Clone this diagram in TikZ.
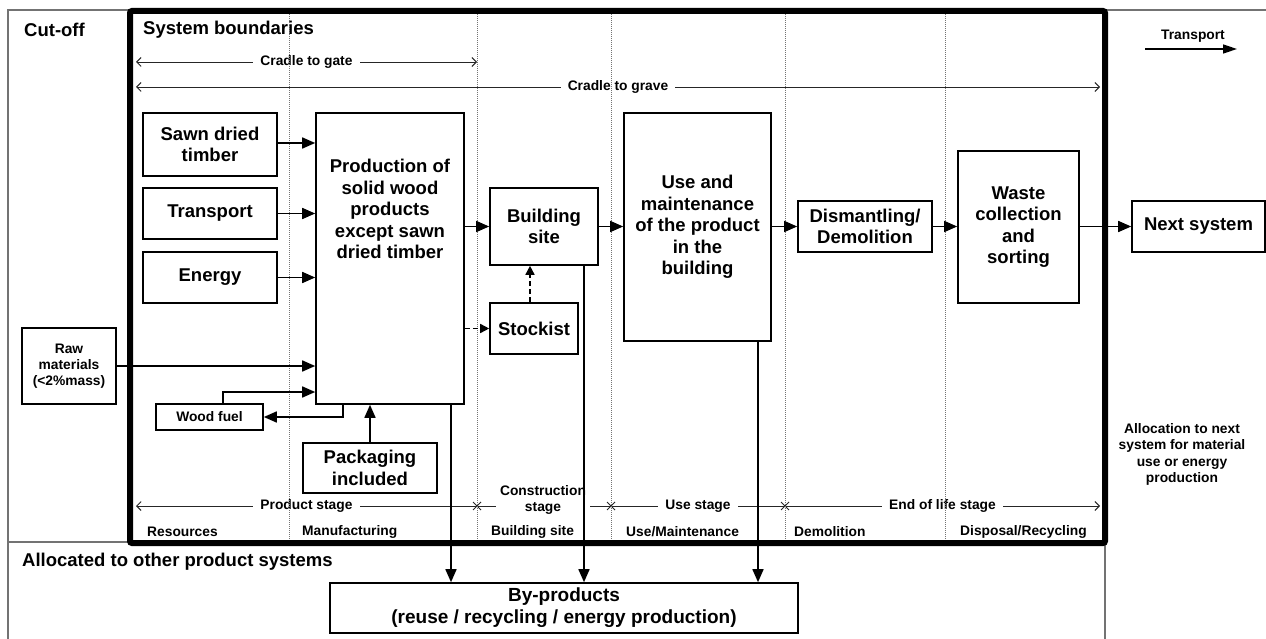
\documentclass[tikz,border=0pt]{standalone}
\usepackage{fontspec}
\setmainfont{Liberation Sans}
\usetikzlibrary{arrows.meta}
\begin{document}
\begin{tikzpicture}[x=1pt,y=-1pt,
  box/.style={draw, line width=1.6pt, inner sep=0pt, align=center, font=\bfseries\fontsize{18.5}{21.5}\selectfont},
  sbox/.style={draw, line width=1.6pt, inner sep=0pt, align=center, font=\bfseries\fontsize{13.8}{16.3}\selectfont},
  bigtxt/.style={inner sep=0pt, align=center, font=\bfseries\fontsize{18.5}{21.5}\selectfont},
  smalltxt/.style={inner sep=0pt, align=center, text=black, font=\bfseries\fontsize{13.8}{16.3}\selectfont},
  gaptxt/.style={smalltxt, fill=white, inner xsep=7pt, inner ysep=1pt},
  flow/.style={line width=1.6pt, -{Triangle[length=13pt,width=11pt]}},
  dflow/.style={line width=1.5pt, dash pattern=on 5pt off 3pt, -{Triangle[length=9pt,width=9pt]}},
  frame/.style={line width=1.2pt, black!55},
  dotline/.style={line width=0.9pt, black!55, dash pattern=on 1pt off 1pt},
  thinline/.style={line width=0.9pt, black!85},
  barb/.tip={Straight Barb[length=4.5pt,width=9pt,line width=0.9pt]},
]
\useasboundingbox (0,0) rectangle (1266,639);

% outer frame
\draw[frame] (8,639) -- (8,10) -- (1266,10);
\draw[frame] (8,542) -- (130,542);
\draw[frame] (1105,543) -- (1105,639);

% header texts
\node[bigtxt, anchor=west] (cutoff) at (24,30) {Cut-off};
\node[bigtxt, anchor=west] (sysb) at (143,30) {System boundaries};
\node[bigtxt, anchor=west] (alloc) at (22,562) {Allocated to other product systems};

% cradle arrows
\coordinate (cg1) at (136,62); \coordinate (cg2) at (477,62);
\draw[thinline, barb-barb] (cg1) -- (cg2) node[midway, gaptxt] (cgate) {Cradle to gate};
\coordinate (cv1) at (136,87); \coordinate (cv2) at (1100,87);
\draw[thinline, barb-barb] (cv1) -- (cv2) node[midway, gaptxt] (cgrave) {Cradle to grave};

% stage row
\coordinate (s0) at (136,506); \coordinate (s1) at (477,506);
\coordinate (s2) at (611,506); \coordinate (s3) at (785,506);
\coordinate (s4) at (1100,506);
\draw[thinline, barb-] (s0) -- (s1) node[midway, gaptxt] (pstage) {Product stage};
\draw[thinline] (s1) -- (s2);
\node[gaptxt, inner xsep=4pt] (cstage) at (543,500) {Construction\\stage};
\draw[thinline] (s2) -- (s3) node[midway, gaptxt] (ustage) {Use stage};
\draw[thinline, -barb] (s3) -- (s4) node[midway, gaptxt] (estage) {End of life stage};
\foreach \c in {s1,s2,s3}{
  \draw[thinline] ([shift={(-4pt,-4pt)}]\c) -- ([shift={(4pt,4pt)}]\c);
  \draw[thinline] ([shift={(-4pt,4pt)}]\c) -- ([shift={(4pt,-4pt)}]\c);
}

% bottom labels
\node[smalltxt, anchor=west] (lres) at (147,532) {Resources};
\node[smalltxt, anchor=west] (lman) at (302,532) {Manufacturing};
\node[smalltxt, anchor=west] (lbui) at (491,532) {Building site};
\node[smalltxt, anchor=west] (luse) at (626,532) {Use/Maintenance};
\node[smalltxt, anchor=west] (ldem) at (794,532) {Demolition};
\node[smalltxt, anchor=west] (ldis) at (960,532) {Disposal/Recycling};

% dotted stage separators
\foreach \x in {289,477,611,785,945}{
  \draw[dotline] (\x,14) -- (\x,540);
}

% thick system boundary
\draw[line width=6pt, rounded corners=2pt] (130,11) rectangle (1105,543);

% boxes
\node[box, minimum width=134pt, minimum height=63pt] (sawn) at (210,144.5) {Sawn dried\\timber};
\node[box, minimum width=134pt, minimum height=51pt] (trans) at (210,213.5) {Transport};
\node[box, minimum width=134pt, minimum height=51pt] (energy) at (210,277.5) {Energy};
\node[box, minimum width=148pt, minimum height=291pt] (prod) at (390,258.5) {};
\node[bigtxt] (prodtxt) at (390,209) {Production of\\solid wood\\products\\except sawn\\dried timber};
\node[sbox, minimum width=94pt, minimum height=76pt] (raw) at (69,366) {Raw\\materials\\(<2\%mass)};
\node[sbox, minimum width=107pt, minimum height=26pt] (wood) at (209.5,417) {Wood fuel};
\node[box, minimum width=134pt, minimum height=50pt] (pack) at (370,468) {Packaging\\included};
\node[box, minimum width=108pt, minimum height=77pt] (build) at (544,226.5) {Building\\site};
\node[box, minimum width=88pt, minimum height=51pt] (stock) at (534,328.5) {Stockist};
\node[box, minimum width=147pt, minimum height=228pt] (use) at (697.5,227) {Use and\\maintenance\\of the product\\in the\\building};
\node[box, minimum width=134pt, minimum height=51pt] (dism) at (865,226.5) {Dismantling/\\Demolition};
\node[box, minimum width=121pt, minimum height=152pt] (waste) at (1018.5,227) {Waste\\collection\\and\\sorting};
\node[box, minimum width=133pt, minimum height=51pt] (next) at (1198.5,226.5) {Next system};
\node[box, minimum width=468pt, minimum height=50pt, font=\bfseries\fontsize{19}{22}\selectfont] (byp) at (564,608) {By-products\\(reuse / recycling / energy production)};

% side texts
\node[smalltxt] (allocnext) at (1182,454.5) {Allocation to next\\system for material\\use or energy\\production};
\node[smalltxt] (tlab) at (1193,36) {Transport};
\coordinate (ta) at (1145,49); \coordinate (tb) at (1237,49);
\draw[line width=1.6pt, -{Triangle[length=14pt,width=9pt]}] (ta) -- (tb);

% flows
\draw[flow] ([yshift=1.5pt]sawn.east) -- ([yshift=1.5pt]sawn.east -| prod.west);
\draw[flow] (trans.east) -- (trans.east -| prod.west);
\draw[flow] (energy.east) -- (energy.east -| prod.west);
\draw[flow] (raw.east) -- (raw.east -| prod.west);
\draw[flow] ([xshift=13.5pt]wood.north) |- ([yshift=-133.5pt]prod.west);
\draw[flow] ([xshift=-47pt]prod.south) |- (wood.east);
\draw[flow] (pack.north) -- (pack.north |- prod.south);
\draw[flow] (prod.east |- build.west) -- (build.west);
\draw[dflow] (prod.east |- stock.west) -- (stock.west);
\draw[dflow] ([xshift=-4pt]stock.north) -- ([xshift=-4pt]stock.north |- build.south);
\draw[flow] (build.east) -- (build.east -| use.west);
\draw[flow] (use.east |- dism.west) -- (dism.west);
\draw[flow] (dism.east) -- (dism.east -| waste.west);
\draw[flow] (waste.east |- next.west) -- (next.west);
\draw[flow] ([xshift=61pt]prod.south) -- ([xshift=61pt]prod.south |- byp.north);
\draw[flow] ([xshift=40pt]build.south) -- ([xshift=40pt]build.south |- byp.north);
\draw[flow] ([xshift=60.5pt]use.south) -- ([xshift=60.5pt]use.south |- byp.north);
\end{tikzpicture}
\end{document}
